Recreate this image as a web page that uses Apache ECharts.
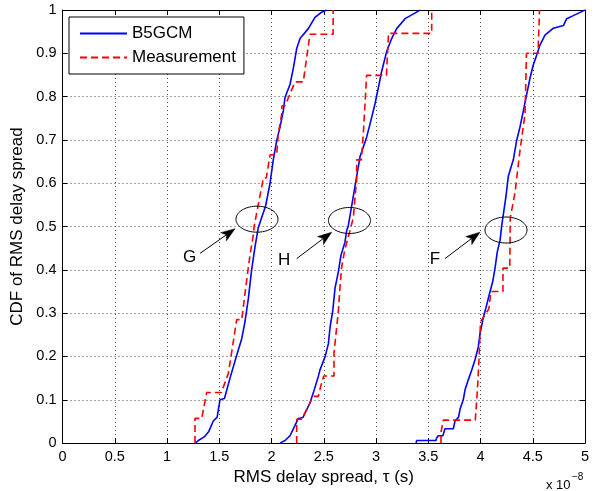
<!DOCTYPE html>
<html>
<head>
<meta charset="utf-8">
<script src="https://cdn.jsdelivr.net/npm/echarts@6/dist/echarts.min.js"></script>
<style>html,body{margin:0;padding:0;background:#fff;}#chart{width:595px;height:491px;}</style>
</head>
<body>
<div id="chart"></div>
<script>
// x values in units of 1e-8 s
const xTicks = [0, 0.5, 1, 1.5, 2, 2.5, 3, 3.5, 4, 4.5, 5];
const yTicks = [0, 0.1, 0.2, 0.3, 0.4, 0.5, 0.6, 0.7, 0.8, 0.9, 1];

const b5gcmG = [[1.27,0],[1.30,0.006],[1.36,0.015],[1.40,0.027],[1.443,0.051],[1.48,0.06],[1.507,0.10],[1.55,0.103],[1.603,0.15],[1.667,0.203],[1.715,0.241],[1.746,0.28],[1.778,0.333],[1.81,0.40],[1.842,0.453],[1.874,0.498],[1.944,0.548],[1.986,0.60],[2.017,0.654],[2.05,0.699],[2.081,0.729],[2.113,0.767],[2.129,0.798],[2.177,0.828],[2.209,0.866],[2.241,0.911],[2.273,0.934],[2.352,0.957],[2.416,0.983],[2.48,0.995],[2.528,1.0]];
const measG = [[1.268,0],[1.268,0.057],[1.332,0.057],[1.38,0.117],[1.52,0.117],[1.587,0.161],[1.619,0.21],[1.651,0.26],[1.667,0.285],[1.715,0.285],[1.763,0.377],[1.794,0.434],[1.826,0.48],[1.835,0.502],[1.922,0.612],[1.95,0.612],[1.986,0.665],[2.05,0.667],[2.065,0.714],[2.098,0.76],[2.10,0.779],[2.13,0.779],[2.225,0.834],[2.304,0.834],[2.368,0.944],[2.59,0.944],[2.59,1.0]];

const b5gcmH = [[2.081,0],[2.13,0.006],[2.177,0.017],[2.209,0.033],[2.257,0.057],[2.30,0.059],[2.368,0.093],[2.40,0.116],[2.448,0.154],[2.464,0.169],[2.512,0.199],[2.544,0.229],[2.56,0.267],[2.586,0.305],[2.608,0.358],[2.64,0.396],[2.665,0.434],[2.703,0.464],[2.72,0.491],[2.735,0.502],[2.783,0.57],[2.815,0.616],[2.847,0.661],[2.911,0.707],[2.943,0.737],[2.99,0.783],[3.022,0.82],[3.054,0.858],[3.102,0.904],[3.15,0.934],[3.198,0.957],[3.278,0.98],[3.389,0.995],[3.42,1.0]];
const measH = [[2.241,0],[2.241,0.055],[2.289,0.055],[2.40,0.108],[2.448,0.108],[2.47,0.13],[2.50,0.155],[2.598,0.155],[2.598,0.207],[2.617,0.252],[2.64,0.305],[2.655,0.358],[2.67,0.404],[2.70,0.445],[2.75,0.49],[2.783,0.52],[2.80,0.57],[2.815,0.608],[2.815,0.654],[2.86,0.654],[2.88,0.72],[2.895,0.783],[2.91,0.849],[3.10,0.849],[3.12,0.946],[3.533,0.946],[3.533,1.0]];

const b5gcmF = [[3.383,0],[3.39,0.006],[3.574,0.006],[3.58,0.012],[3.596,0.017],[3.64,0.017],[3.66,0.033],[3.74,0.033],[3.756,0.051],[3.79,0.06],[3.804,0.078],[3.835,0.10],[3.852,0.123],[3.883,0.146],[3.916,0.169],[3.947,0.192],[3.979,0.222],[3.995,0.252],[4.027,0.29],[4.053,0.313],[4.084,0.343],[4.117,0.373],[4.139,0.404],[4.161,0.442],[4.187,0.468],[4.203,0.502],[4.244,0.57],[4.266,0.616],[4.314,0.654],[4.346,0.699],[4.378,0.73],[4.41,0.767],[4.442,0.805],[4.474,0.843],[4.505,0.873],[4.538,0.896],[4.569,0.919],[4.617,0.942],[4.697,0.958],[4.793,0.964],[4.825,0.98],[4.888,0.987],[4.983,0.998],[5.0,1.0]];
const measF = [[3.622,0],[3.622,0.025],[3.644,0.053],[3.95,0.053],[3.97,0.12],[3.985,0.19],[4.0,0.28],[4.08,0.31],[4.10,0.35],[4.215,0.35],[4.215,0.404],[4.28,0.404],[4.285,0.52],[4.33,0.578],[4.378,0.676],[4.426,0.76],[4.44,0.90],[4.55,0.90],[4.565,1.0]];

const annotationLabels = ['G', 'H', 'F'];
const ellipseCenters = [[1.861,0.517],[2.746,0.514],[4.244,0.492]];
const arrowTails = [[1.316,0.438],[2.241,0.426],[3.660,0.426]];
const arrowTips = [[1.651,0.495],[2.576,0.487],[3.995,0.487]];
const labelPositions = [[1.217,0.428],[2.121,0.422],[3.565,0.424]];

const FONT = '"Liberation Sans", Arial, Helvetica, sans-serif';
const chart = echarts.init(document.getElementById('chart'), null, {renderer: 'canvas'});

const gridLine = {show: true, lineStyle: {color: '#444', width: 1, type: [1, 3]}};
const baseX = {type: 'value', min: 0, max: 5, interval: 0.5,
  axisLine: {show: true, onZero: false, lineStyle: {color: '#000', width: 1}},
  axisTick: {show: true, inside: true, length: 5, lineStyle: {color: '#000'}}};
const baseY = {type: 'value', min: 0, max: 1, interval: 0.1,
  axisLine: {show: true, onZero: false, lineStyle: {color: '#000', width: 1}},
  axisTick: {show: true, inside: true, length: 5, lineStyle: {color: '#000'}}};

function blue(data) {
  return {type: 'line', name: 'B5GCM', data: data, showSymbol: false, symbol: 'none', z: 2,
    lineStyle: {color: '#0000ff', width: 1.6}, itemStyle: {color: '#0000ff'}};
}
function red(data) {
  return {type: 'line', name: 'Measurement', data: data, showSymbol: false, symbol: 'none', z: 3,
    lineStyle: {color: '#ff0000', width: 1.6, type: [7, 4]}, itemStyle: {color: '#ff0000'}};
}

const annData = ellipseCenters.map((c, i) => [c[0], c[1], arrowTails[i][0], arrowTails[i][1], arrowTips[i][0], arrowTips[i][1], labelPositions[i][0], labelPositions[i][1], i]);

const option = {
  animation: false,
  backgroundColor: '#fff',
  textStyle: {fontFamily: FONT},
  grid: {left: 62.5, right: 10, top: 10, bottom: 42, containLabel: false},
  xAxis: [
    Object.assign({}, baseX, {position: 'bottom',
      axisLabel: {color: '#000', fontSize: 14.5, fontFamily: FONT, margin: 6},
      splitLine: gridLine,
      name: 'RMS delay spread, \u03C4 (s)', nameLocation: 'middle', nameGap: 18,
      nameTextStyle: {color: '#000', fontSize: 17, fontFamily: FONT}}),
    Object.assign({}, baseX, {position: 'top', axisLabel: {show: false}, splitLine: {show: false}})
  ],
  yAxis: [
    Object.assign({}, baseY, {position: 'left',
      axisLabel: {color: '#000', fontSize: 14.5, fontFamily: FONT, margin: 6},
      splitLine: gridLine,
      name: 'CDF of RMS delay spread', nameLocation: 'middle', nameGap: 31, nameRotate: 90,
      nameTextStyle: {color: '#000', fontSize: 17, fontFamily: FONT}}),
    Object.assign({}, baseY, {position: 'right', axisLabel: {show: false}, splitLine: {show: false}})
  ],
  legend: {
    left: 69, top: 17, orient: 'vertical',
    data: ['B5GCM', 'Measurement'],
    backgroundColor: '#fff', borderColor: '#000', borderWidth: 1, borderRadius: 0,
    padding: [8, 8, 8, 10], itemWidth: 47, itemHeight: 14, itemGap: 7,
    itemStyle: {opacity: 0, color: 'rgba(0,0,0,0)', borderColor: 'rgba(0,0,0,0)', borderWidth: 0},
    textStyle: {color: '#000', fontSize: 17, lineHeight: 15, fontFamily: FONT}
  },
  graphic: [
    {type: 'text', x: 546, y: 479, style: {text: 'x 10', fill: '#000', font: '13px ' + FONT, textVerticalAlign: 'top'}},
    {type: 'text', x: 572, y: 472, style: {text: '\u22128', fill: '#000', font: '10px ' + FONT, textVerticalAlign: 'top'}}
  ],
  series: [
    blue(b5gcmG), blue(b5gcmH), blue(b5gcmF),
    red(measG), red(measH), red(measF),
    {
      type: 'custom', clip: false, z: 5, silent: true,
      encode: {x: 0, y: 1},
      data: annData,
      renderItem: function (params, api) {
        const c = api.coord([api.value(0), api.value(1)]);
        const t = api.coord([api.value(2), api.value(3)]);
        const p = api.coord([api.value(4), api.value(5)]);
        const l = api.coord([api.value(6), api.value(7)]);
        const idx = api.value(8);
        const pts = [];
        for (let k = 0; k <= 72; k++) {
          const a = 2 * Math.PI * k / 72;
          pts.push([c[0] + 21 * Math.cos(a), c[1] + 13 * Math.sin(a)]);
        }
        const dx = p[0] - t[0], dy = p[1] - t[1];
        const len = Math.hypot(dx, dy);
        const ux = dx / len, uy = dy / len;
        const hl = 14, hw = 5;
        const base = [p[0] - ux * hl, p[1] - uy * hl];
        const notch = [p[0] - ux * hl * 0.75, p[1] - uy * hl * 0.75];
        const lft = [base[0] - uy * hw, base[1] + ux * hw];
        const rgt = [base[0] + uy * hw, base[1] - ux * hw];
        return {
          type: 'group',
          children: [
            {type: 'polyline', shape: {points: pts}, style: {stroke: '#000', fill: null, lineWidth: 1}},
            {type: 'line', shape: {x1: t[0], y1: t[1], x2: notch[0], y2: notch[1]}, style: {stroke: '#000', lineWidth: 1}},
            {type: 'polygon', shape: {points: [p, lft, notch, rgt]}, style: {fill: '#000', stroke: '#000', lineWidth: 0.5}},
            {type: 'text', x: l[0], y: l[1], style: {text: annotationLabels[idx], fill: '#000', font: '17px ' + FONT, align: 'center', verticalAlign: 'middle'}}
          ]
        };
      }
    }
  ]
};
chart.setOption(option);
</script>
</body>
</html>
